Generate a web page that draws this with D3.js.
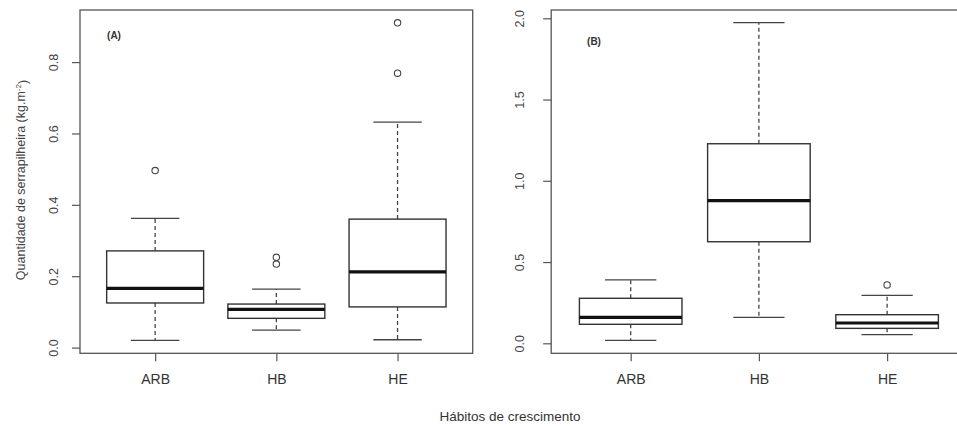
<!DOCTYPE html>
<html lang="pt">
<head>
<meta charset="UTF-8">
<title>Quantidade de serrapilheira</title>
<script src="https://d3js.org/d3.v7.min.js"></script>
<style>
    body { margin: 0; background: #fff; font-family: "Liberation Sans", Arial, sans-serif; }
    svg { display: block; }
</style>
</head>
<body>
<div id="chart"></div>
<script>
    // categories shared by both panels
    const categories = ["ARB", "HB", "HE"];

    // panel A: [lower whisker, Q1, median, Q3, upper whisker]
    const statsA = [
        [0.020, 0.125, 0.166, 0.271, 0.362],
        [0.049, 0.082, 0.107, 0.122, 0.164],
        [0.022, 0.114, 0.212, 0.360, 0.632]
    ];
    const outliersA = [[0.496], [0.234, 0.253], [0.769, 0.910]];
    const ticksA = [0, 0.2, 0.4, 0.6, 0.8];

    // panel B
    const statsB = [
        [0.018, 0.117, 0.160, 0.277, 0.390],
        [0.160, 0.625, 0.878, 1.228, 1.973],
        [0.053, 0.092, 0.125, 0.176, 0.295]
    ];
    const outliersB = [[], [], [0.359]];
    const ticksB = [0, 0.5, 1.0, 1.5, 2.0];

    const W = 957, H = 426;
    const svg = d3.select("#chart").append("svg")
        .attr("width", W).attr("height", H);

    // draw one R-style boxplot panel
    function drawPanel(opt) {
        const g = svg.append("g");
        const x = d3.scaleLinear().domain([0.38, 3.62]).range([opt.left, opt.right]);
        const y = d3.scaleLinear().domain(opt.yDomain).range([opt.bottom, opt.top]);
        const unit = x(2) - x(1);

        // frame
        g.append("rect")
            .attr("x", opt.left).attr("y", opt.top)
            .attr("width", opt.right - opt.left).attr("height", opt.bottom - opt.top)
            .attr("fill", "none").attr("stroke", "#555").attr("stroke-width", 1.3);

        // y axis
        const ya = g.append("g")
            .attr("transform", `translate(${opt.left},0)`)
            .call(d3.axisLeft(y).tickValues(opt.ticks).tickSize(8).tickFormat(d3.format(".1f")));
        ya.select(".domain").remove();
        ya.selectAll(".tick line").attr("stroke", "#555").attr("stroke-width", 1.2);
        ya.selectAll(".tick text")
            .attr("x", 0).attr("dy", null)
            .attr("transform", `translate(${-opt.ylabOff},0) rotate(-90)`)
            .attr("text-anchor", "middle")
            .attr("dominant-baseline", "central")
            .attr("fill", "#444")
            .style("font-size", "12.5px")
            .style("font-family", "'Liberation Sans', Arial, sans-serif");

        // x axis
        const xa = g.append("g")
            .attr("transform", `translate(0,${opt.bottom})`)
            .call(d3.axisBottom(x).tickValues([1, 2, 3]).tickSize(8).tickFormat(i => categories[i - 1]));
        xa.select(".domain").remove();
        xa.selectAll(".tick line").attr("stroke", "#555").attr("stroke-width", 1.2);
        xa.selectAll(".tick text")
            .attr("y", 379.5 - opt.bottom).attr("dy", null)
            .attr("dominant-baseline", "central")
            .attr("fill", "#333")
            .style("font-size", "14px")
            .style("font-family", "'Liberation Sans', Arial, sans-serif");

        const data = opt.stats.map((s, i) => ({ i: i + 1, s: s, out: opt.outliers[i] }));
        const boxes = g.selectAll(".box").data(data).join("g").attr("class", "box");
        const half = 0.4 * unit, cap = 0.2 * unit;

        // whiskers
        boxes.append("line")
            .attr("x1", d => x(d.i)).attr("x2", d => x(d.i))
            .attr("y1", d => y(d.s[3])).attr("y2", d => y(d.s[4]))
            .attr("stroke", "#444").attr("stroke-width", 1.3).attr("stroke-dasharray", "4,3");
        boxes.append("line")
            .attr("x1", d => x(d.i)).attr("x2", d => x(d.i))
            .attr("y1", d => y(d.s[1])).attr("y2", d => y(d.s[0]))
            .attr("stroke", "#444").attr("stroke-width", 1.3).attr("stroke-dasharray", "4,3");
        // staples
        [0, 4].forEach(k => {
            boxes.append("line")
                .attr("x1", d => x(d.i) - cap).attr("x2", d => x(d.i) + cap)
                .attr("y1", d => y(d.s[k])).attr("y2", d => y(d.s[k]))
                .attr("stroke", "#444").attr("stroke-width", 1.3);
        });
        // box
        boxes.append("rect")
            .attr("x", d => x(d.i) - half).attr("width", 2 * half)
            .attr("y", d => y(d.s[3])).attr("height", d => y(d.s[1]) - y(d.s[3]))
            .attr("fill", "#fff").attr("stroke", "#333").attr("stroke-width", 1.4);
        // median
        boxes.append("line")
            .attr("x1", d => x(d.i) - half).attr("x2", d => x(d.i) + half)
            .attr("y1", d => y(d.s[2])).attr("y2", d => y(d.s[2]))
            .attr("stroke", "#111").attr("stroke-width", 3.2);
        // outliers
        boxes.selectAll("circle").data(d => d.out.map(v => ({ i: d.i, v: v }))).join("circle")
            .attr("cx", d => x(d.i)).attr("cy", d => y(d.v)).attr("r", 3.2)
            .attr("fill", "none").attr("stroke", "#444").attr("stroke-width", 1.1);

        // panel tag
        g.append("text")
            .attr("x", opt.tagX).attr("y", opt.tagY)
            .attr("text-anchor", "middle").attr("dominant-baseline", "central")
            .attr("fill", "#333").style("font-size", "10px").style("font-weight", "bold")
            .text(opt.tag);
    }

    drawPanel({
        left: 80, right: 472.7, top: 10, bottom: 353.3,
        yDomain: [-0.016, 0.946], ticks: ticksA,
        stats: statsA, outliers: outliersA, ylabOff: 25.7,
        tag: "(A)", tagX: 114, tagY: 35
    });
    drawPanel({
        left: 551.2, right: 966.6, top: 10, bottom: 353.3,
        yDomain: [-0.0615, 2.051], ticks: ticksB,
        stats: statsB, outliers: outliersB, ylabOff: 31.5,
        tag: "(B)", tagX: 594, tagY: 41
    });

    // y axis title
    const yt = svg.append("text")
        .attr("transform", "translate(20.7,180) rotate(-90)")
        .attr("text-anchor", "middle").attr("dominant-baseline", "central")
        .attr("fill", "#444").style("font-size", "12.5px");
    yt.append("tspan").text("Quantidade de serrapilheira (kg.m");
    yt.append("tspan").attr("dy", "-0.4em").style("font-size", "8px").text("-2");
    yt.append("tspan").attr("dy", "0.4em").text(")");

    // x axis title
    svg.append("text")
        .attr("x", 510).attr("y", 416)
        .attr("text-anchor", "middle").attr("dominant-baseline", "central")
        .attr("fill", "#333").style("font-size", "13.5px")
        .text("Hábitos de crescimento");
</script>
</body>
</html>
